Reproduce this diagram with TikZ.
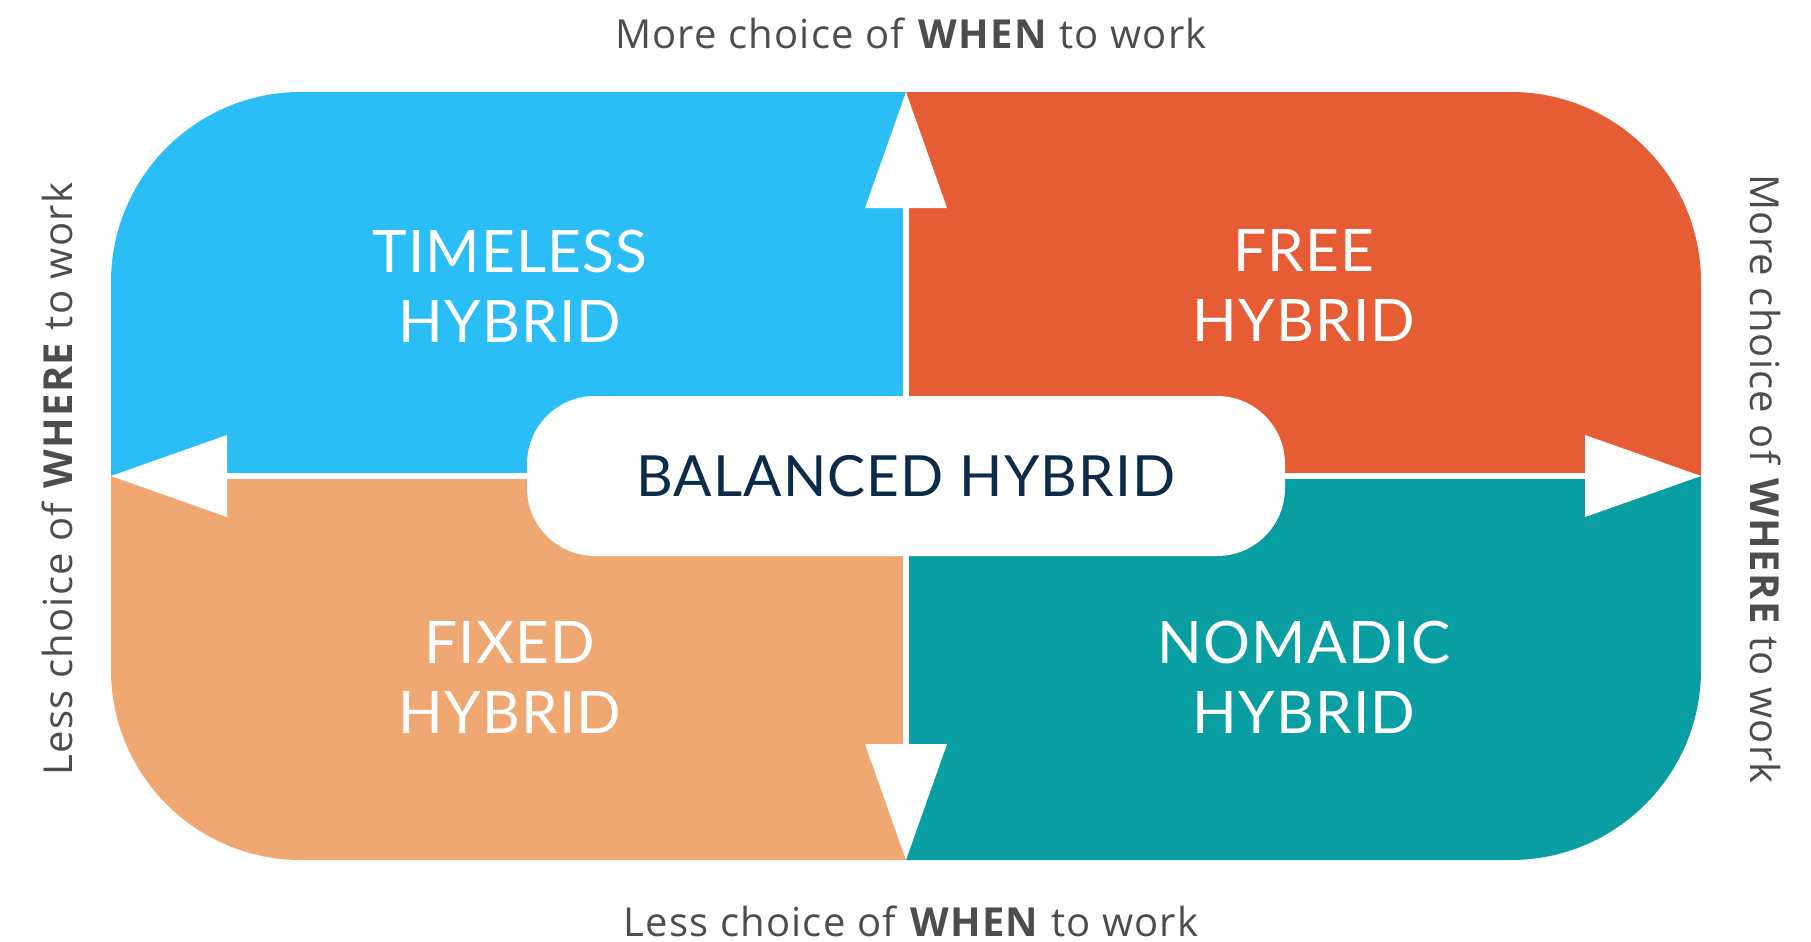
\documentclass[tikz,border=0pt]{standalone}
\usepackage{fontspec}
\setmainfont{Open Sans}
\newfontfamily\axisfont[LetterSpace=3]{Open Sans}
\newfontfamily\quadfont[LetterSpace=2]{Lato}
\newfontfamily\centerfont{Lato}
\usetikzlibrary{arrows.meta}
\definecolor{timelessfill}{RGB}{43,189,245}
\definecolor{freefill}{RGB}{230,92,53}
\definecolor{fixedfill}{RGB}{240,168,115}
\definecolor{nomadicfill}{RGB}{8,158,162}
\definecolor{balancedtext}{RGB}{12,42,74}
\definecolor{axistext}{RGB}{77,77,77}
\tikzset{
    quadrant/.style={
        rounded corners=95pt
    },
    quadlabel/.style={
        text=white,
        align=center,
        inner sep=0pt,
        font=\quadfont\fontsize{29.3}{35}\selectfont
    },
    centerblock/.style={
        rectangle,
        fill=white,
        rounded corners=34pt,
        minimum width=379pt,
        minimum height=80pt,
        text=balancedtext,
        font=\quadfont\fontsize{28.4}{35}\selectfont
    },
    axislabel/.style={
        text=axistext,
        inner sep=0pt,
        font=\axisfont\fontsize{20}{24}\selectfont
    },
    axisarrow/.style={
        draw=white,
        line width=3.25pt,
        -{Triangle[length=58pt, width=41pt, line width=0pt]}
    }
}

\begin{document}
\begin{tikzpicture}[x=0.5pt, y=-0.5pt]
\useasboundingbox (0,0) rectangle (1811,942);
% Quadrants
\begin{scope}
\clip (0,0) rectangle (906,476);
\fill[timelessfill, quadrant] (111,92) rectangle (1701,860);
\end{scope}
\begin{scope}
\clip (906,0) rectangle (1811,476);
\fill[freefill, quadrant] (111,92) rectangle (1701,860);
\end{scope}
\begin{scope}
\clip (0,476) rectangle (906,942);
\fill[fixedfill, quadrant] (111,92) rectangle (1701,860);
\end{scope}
\begin{scope}
\clip (906,476) rectangle (1811,942);
\fill[nomadicfill, quadrant] (111,92) rectangle (1701,860);
\end{scope}

\node[quadlabel] (timeless) at (510,286) {TIMELESS\\HYBRID};
\node[quadlabel] (free) at (1304,286) {FREE\\HYBRID};
\node[quadlabel] (fixed) at (510,677) {FIXED\\HYBRID};
\node[quadlabel] (nomadic) at (1304,677) {NOMADIC\\HYBRID};

% Centre
\node[centerblock] (balanced) at (906,476) {BALANCED HYBRID};

% Axes
\coordinate (uptip) at (906,92);
\coordinate (downtip) at (906,860);
\coordinate (lefttip) at (111,476);
\coordinate (righttip) at (1701,476);
\draw[axisarrow] (balanced.north) -- (uptip);
\draw[axisarrow] (balanced.south) -- (downtip);
\draw[axisarrow] (balanced.west) -- (lefttip);
\draw[axisarrow] (balanced.east) -- (righttip);

\node[axislabel, anchor=base] (morewhen) at (911,48) {More choice of \textbf{WHEN} to work};
\node[axislabel, anchor=base] (lesswhen) at (911,936) {Less choice of \textbf{WHEN} to work};
\node[axislabel, anchor=base, rotate=90] (lesswhere) at (72,479) {Less choice of \textbf{WHERE} to work};
\node[axislabel, anchor=base, rotate=-90] (morewhere) at (1750,479) {More choice of \textbf{WHERE} to work};
\end{tikzpicture}
\end{document}
